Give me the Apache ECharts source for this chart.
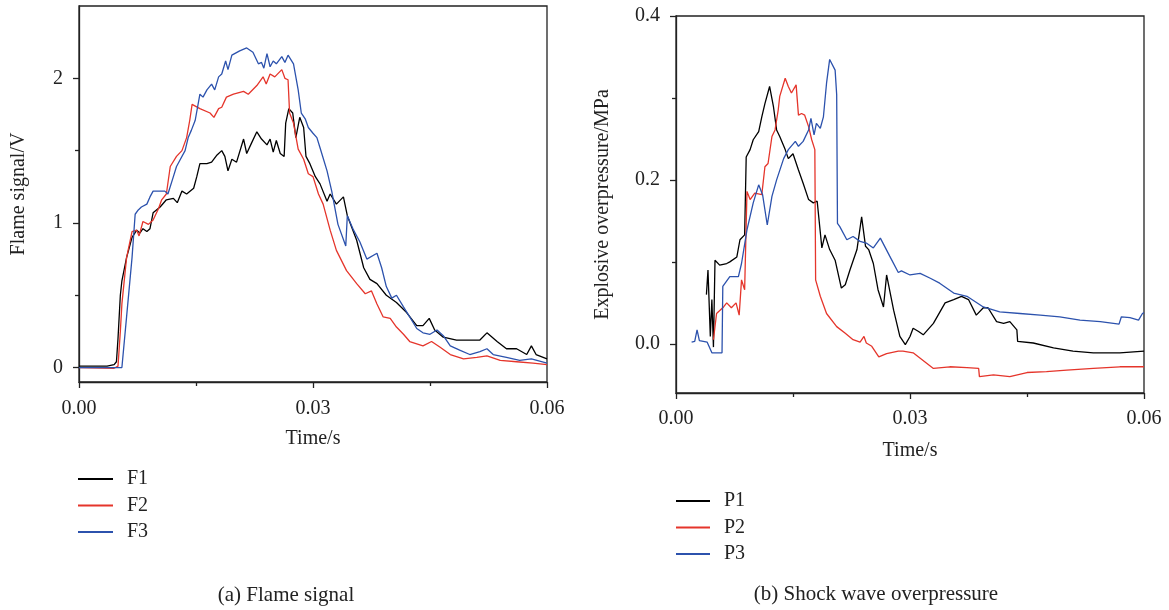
<!DOCTYPE html>
<html>
<head>
<meta charset="utf-8">
<script src="https://cdn.jsdelivr.net/npm/echarts@6/dist/echarts.min.js"></script>
<style>
html,body{margin:0;padding:0;background:#fff;}
#chart{width:1169px;height:610px;}
</style>
</head>
<body>
<div id="chart"></div>
<script>
// ---- Data: [time (s), value] ----
const F1 = [[0,0.01],[0.0036,0.01],[0.0045,0.02],[0.0048,0.04],[0.0050,0.2],[0.0053,0.5],[0.0055,0.60],[0.0061,0.76],[0.0068,0.90],[0.0074,0.95],[0.0078,0.93],[0.0082,0.96],[0.0087,0.94],[0.0091,0.96],[0.0095,1.07],[0.0104,1.11],[0.0112,1.16],[0.0121,1.17],[0.0126,1.14],[0.0132,1.22],[0.0138,1.20],[0.0147,1.24],[0.0151,1.32],[0.0155,1.41],[0.0164,1.41],[0.0170,1.42],[0.0177,1.47],[0.0183,1.50],[0.0187,1.46],[0.0191,1.36],[0.0196,1.44],[0.0202,1.42],[0.0211,1.58],[0.0215,1.48],[0.0221,1.55],[0.0228,1.63],[0.0234,1.58],[0.0241,1.54],[0.0245,1.58],[0.0249,1.49],[0.0253,1.57],[0.0258,1.48],[0.0263,1.46],[0.0265,1.69],[0.0269,1.79],[0.0274,1.76],[0.0278,1.59],[0.0283,1.73],[0.0288,1.66],[0.0291,1.46],[0.0296,1.41],[0.0303,1.32],[0.0309,1.27],[0.0318,1.15],[0.0322,1.20],[0.0330,1.13],[0.0339,1.18],[0.0344,1.05],[0.0356,0.88],[0.0365,0.69],[0.0373,0.61],[0.0382,0.58],[0.0394,0.50],[0.0407,0.45],[0.0420,0.38],[0.0433,0.29],[0.0441,0.29],[0.0449,0.34],[0.0456,0.26],[0.0467,0.21],[0.0484,0.19],[0.0501,0.19],[0.0514,0.19],[0.0523,0.24],[0.0536,0.18],[0.0548,0.13],[0.0561,0.13],[0.0574,0.09],[0.0580,0.15],[0.0586,0.09],[0.0600,0.06]];
const F2 = [[0,0.0],[0.0045,-0.005],[0.0050,0.01],[0.0053,0.25],[0.0055,0.44],[0.0061,0.76],[0.0068,0.94],[0.0074,0.95],[0.0077,0.91],[0.0082,1.01],[0.0089,0.99],[0.0095,1.02],[0.0102,1.10],[0.0106,1.16],[0.0112,1.20],[0.0117,1.39],[0.0125,1.46],[0.0132,1.50],[0.0138,1.59],[0.0142,1.71],[0.0145,1.82],[0.0155,1.79],[0.0168,1.76],[0.0173,1.73],[0.0179,1.79],[0.0183,1.80],[0.0189,1.87],[0.0198,1.89],[0.0211,1.91],[0.0217,1.89],[0.0228,1.95],[0.0236,2.01],[0.0240,1.96],[0.0245,2.03],[0.0251,2.01],[0.0260,2.06],[0.0264,2.00],[0.0268,1.99],[0.0270,1.76],[0.0275,1.69],[0.0281,1.51],[0.0288,1.44],[0.0294,1.34],[0.0300,1.32],[0.0307,1.20],[0.0313,1.13],[0.0322,0.95],[0.0330,0.81],[0.0343,0.67],[0.0356,0.58],[0.0367,0.51],[0.0375,0.53],[0.0382,0.44],[0.0390,0.35],[0.0399,0.34],[0.0407,0.28],[0.0416,0.23],[0.0424,0.18],[0.0441,0.15],[0.0452,0.18],[0.0463,0.14],[0.0476,0.09],[0.0493,0.06],[0.0510,0.07],[0.0523,0.08],[0.0540,0.05],[0.0561,0.04],[0.0582,0.03],[0.0600,0.02]];
const F3 = [[0,0.0],[0.0055,0.0],[0.0057,0.01],[0.0061,0.35],[0.0068,0.76],[0.0072,1.06],[0.0076,1.09],[0.0080,1.11],[0.0087,1.13],[0.0091,1.18],[0.0095,1.22],[0.0104,1.22],[0.0110,1.22],[0.0114,1.20],[0.0121,1.32],[0.0125,1.39],[0.0129,1.43],[0.0136,1.50],[0.0140,1.59],[0.0144,1.64],[0.0149,1.71],[0.0155,1.89],[0.0159,1.87],[0.0164,1.92],[0.0170,1.96],[0.0174,1.92],[0.0179,2.01],[0.0183,2.03],[0.0188,2.12],[0.0191,2.06],[0.0196,2.16],[0.0206,2.19],[0.0215,2.21],[0.0223,2.18],[0.0230,2.10],[0.0234,2.11],[0.0237,2.07],[0.0241,2.17],[0.0245,2.08],[0.0249,2.12],[0.0253,2.10],[0.0260,2.15],[0.0264,2.11],[0.0268,2.16],[0.0275,2.10],[0.0281,1.92],[0.0285,1.76],[0.0290,1.72],[0.0294,1.66],[0.0300,1.62],[0.0305,1.59],[0.0309,1.52],[0.0318,1.36],[0.0324,1.22],[0.0332,0.99],[0.0342,0.84],[0.0344,1.05],[0.0352,0.95],[0.0360,0.87],[0.0369,0.75],[0.0382,0.79],[0.0388,0.69],[0.0394,0.56],[0.0401,0.48],[0.0407,0.50],[0.0416,0.42],[0.0424,0.35],[0.0433,0.27],[0.0441,0.24],[0.0450,0.23],[0.0459,0.26],[0.0467,0.22],[0.0476,0.15],[0.0488,0.12],[0.0501,0.09],[0.0514,0.11],[0.0523,0.13],[0.0531,0.09],[0.0548,0.07],[0.0565,0.05],[0.0580,0.06],[0.0600,0.03]];

const P1 = [[0.0039,0.060],[0.0041,0.090],[0.0044,0.009],[0.0046,0.054],[0.0048,-0.004],[0.0050,0.102],[0.0056,0.096],[0.0065,0.098],[0.0069,0.100],[0.0078,0.106],[0.0082,0.127],[0.0088,0.133],[0.0090,0.228],[0.0095,0.237],[0.0099,0.249],[0.0106,0.259],[0.0110,0.277],[0.0114,0.293],[0.0120,0.314],[0.0125,0.289],[0.0129,0.261],[0.0133,0.253],[0.0140,0.237],[0.0144,0.226],[0.0150,0.232],[0.0157,0.212],[0.0163,0.196],[0.0170,0.176],[0.0176,0.172],[0.0181,0.174],[0.0187,0.117],[0.0191,0.133],[0.0197,0.115],[0.0204,0.102],[0.0212,0.068],[0.0217,0.072],[0.0223,0.090],[0.0232,0.115],[0.0238,0.155],[0.0243,0.119],[0.0247,0.115],[0.0253,0.098],[0.0259,0.066],[0.0266,0.045],[0.0270,0.084],[0.0279,0.041],[0.0287,0.009],[0.0294,-0.001],[0.0300,0.009],[0.0304,0.019],[0.0311,0.015],[0.0317,0.011],[0.0330,0.025],[0.0345,0.050],[0.0356,0.054],[0.0366,0.058],[0.0375,0.054],[0.0385,0.035],[0.0394,0.044],[0.0400,0.044],[0.0411,0.027],[0.0420,0.025],[0.0428,0.027],[0.0437,0.017],[0.0438,0.003],[0.0458,0.001],[0.0484,-0.005],[0.0509,-0.009],[0.0535,-0.011],[0.0569,-0.011],[0.0600,-0.009]];
const P2 = [[0.0048,0.005],[0.0050,0.007],[0.0052,0.037],[0.0061,0.045],[0.0065,0.050],[0.0071,0.044],[0.0077,0.050],[0.0081,0.035],[0.0084,0.078],[0.0088,0.066],[0.0091,0.186],[0.0095,0.176],[0.0101,0.184],[0.0110,0.182],[0.0114,0.216],[0.0118,0.220],[0.0123,0.253],[0.0127,0.261],[0.0131,0.285],[0.0133,0.302],[0.0140,0.324],[0.0142,0.326],[0.0144,0.314],[0.0148,0.306],[0.0154,0.316],[0.0157,0.279],[0.0161,0.281],[0.0165,0.279],[0.0170,0.265],[0.0174,0.249],[0.0178,0.237],[0.0179,0.078],[0.0185,0.058],[0.0193,0.037],[0.0206,0.021],[0.0217,0.013],[0.0227,0.005],[0.0236,0.002],[0.0241,0.009],[0.0244,0.001],[0.0251,-0.003],[0.0260,-0.016],[0.0270,-0.012],[0.0285,-0.009],[0.0291,-0.009],[0.0304,-0.011],[0.0330,-0.030],[0.0351,-0.028],[0.0373,-0.029],[0.0388,-0.030],[0.0389,-0.040],[0.0407,-0.038],[0.0428,-0.040],[0.0450,-0.035],[0.0475,-0.034],[0.0501,-0.032],[0.0535,-0.030],[0.0569,-0.028],[0.0600,-0.028]];
const P3 = [[0.0020,0.002],[0.0024,0.003],[0.0027,0.017],[0.0030,0.004],[0.0035,0.003],[0.0040,0.002],[0.0046,-0.011],[0.0059,-0.011],[0.0060,0.070],[0.0069,0.082],[0.0080,0.082],[0.0084,0.098],[0.0091,0.139],[0.0099,0.172],[0.0106,0.194],[0.0111,0.182],[0.0117,0.145],[0.0123,0.180],[0.0129,0.200],[0.0138,0.226],[0.0144,0.237],[0.0153,0.247],[0.0157,0.241],[0.0163,0.247],[0.0170,0.261],[0.0173,0.275],[0.0177,0.255],[0.0180,0.269],[0.0185,0.263],[0.0189,0.277],[0.0193,0.318],[0.0197,0.347],[0.0204,0.334],[0.0206,0.304],[0.0207,0.147],[0.0210,0.143],[0.0219,0.127],[0.0227,0.131],[0.0236,0.125],[0.0244,0.123],[0.0253,0.117],[0.0262,0.129],[0.0274,0.107],[0.0285,0.087],[0.0289,0.089],[0.0300,0.084],[0.0313,0.086],[0.0326,0.080],[0.0338,0.074],[0.0356,0.062],[0.0373,0.058],[0.0394,0.045],[0.0415,0.039],[0.0441,0.037],[0.0467,0.035],[0.0492,0.033],[0.0518,0.029],[0.0544,0.027],[0.0568,0.024],[0.0571,0.033],[0.0582,0.032],[0.0593,0.029],[0.0598,0.037],[0.0600,0.038]];

// ---- Tick values ----
const xMajor = [0, 0.03, 0.06];
const xMinor = [0.015, 0.045];
const yMajorA = [0, 1, 2];
const yMinorA = [0.5, 1.5];
const yMajorB = [0, 0.2, 0.4];
const yMinorB = [0.1, 0.3];

const FONT = 'Liberation Serif';
const INK = '#222';
const COLORS = ['#000000', '#e5352b', '#2c52ad'];

const chart = echarts.init(document.getElementById('chart'), null, {renderer: 'canvas'});

function mainAxis(grid, pos, min, max, major, fmt, margin, extra) {
  return Object.assign({
    type: 'value', gridIndex: grid, position: pos, min: min, max: max,
    axisLine: {show: true, onZero: false, lineStyle: {color: INK, width: 1.3}},
    axisTick: {show: true, customValues: major, length: 6, lineStyle: {color: INK, width: 1.3}},
    axisLabel: {show: true, customValues: major, formatter: fmt, fontFamily: FONT, fontSize: 20, color: INK, margin: margin},
    splitLine: {show: false},
    nameTextStyle: {fontFamily: FONT, fontSize: 20, color: INK},
    nameLocation: 'middle'
  }, extra || {});
}
function minorAxis(grid, pos, min, max, minor) {
  return {
    type: 'value', gridIndex: grid, position: pos, min: min, max: max,
    axisLine: {show: false, onZero: false},
    axisTick: {show: true, customValues: minor, length: 4, lineStyle: {color: INK, width: 1.3}},
    axisLabel: {show: false},
    splitLine: {show: false}
  };
}

const fx = v => v.toFixed(2);

const option = {
  animation: false,
  backgroundColor: '#fff',
  grid: [
    {left: 79, top: 6, width: 468, height: 376, show: true, borderColor: INK, borderWidth: 1.3},
    {left: 676, top: 16, width: 468, height: 377, show: true, borderColor: INK, borderWidth: 1.3}
  ],
  xAxis: [
    mainAxis(0, 'bottom', 0, 0.06, xMajor, fx, 17, {name: 'Time/s', nameGap: 47}),
    minorAxis(0, 'bottom', 0, 0.06, xMinor),
    mainAxis(1, 'bottom', 0, 0.06, xMajor, fx, 16, {name: 'Time/s', nameGap: 48}),
    minorAxis(1, 'bottom', 0, 0.06, xMinor)
  ],
  yAxis: [
    mainAxis(0, 'left', -0.1, 2.5, yMajorA, v => String(Math.round(v)), 16, {name: 'Flame signal/V', nameGap: 50}),
    minorAxis(0, 'left', -0.1, 2.5, yMinorA),
    mainAxis(1, 'left', -0.06, 0.4, yMajorB, v => v.toFixed(1), 16, {name: 'Explosive overpressure/MPa', nameGap: 63}),
    minorAxis(1, 'left', -0.06, 0.4, yMinorB)
  ],
  legend: [
    {data: ['F1', 'F2', 'F3'], orient: 'vertical', left: 78, top: 469, padding: 0, itemGap: 6.5,
     itemWidth: 35, itemHeight: 2, icon: 'rect',
     textStyle: {fontFamily: FONT, fontSize: 20, color: INK, padding: [0, 0, 0, 9]}},
    {data: ['P1', 'P2', 'P3'], orient: 'vertical', left: 676, top: 491, padding: 0, itemGap: 6.5,
     itemWidth: 34, itemHeight: 2, icon: 'rect',
     textStyle: {fontFamily: FONT, fontSize: 20, color: INK, padding: [0, 0, 0, 9]}}
  ],
  graphic: [
    {type: 'text', x: 286, y: 595, style: {text: '(a) Flame signal', font: '21px "Liberation Serif"', fill: INK, textAlign: 'center', textVerticalAlign: 'middle'}},
    {type: 'text', x: 876, y: 594, style: {text: '(b) Shock wave overpressure', font: '21px "Liberation Serif"', fill: INK, textAlign: 'center', textVerticalAlign: 'middle'}}
  ],
  series: [
    {name: 'F1', data: F1, xAxisIndex: 0, yAxisIndex: 0, color: COLORS[0]},
    {name: 'F2', data: F2, xAxisIndex: 0, yAxisIndex: 0, color: COLORS[1]},
    {name: 'F3', data: F3, xAxisIndex: 0, yAxisIndex: 0, color: COLORS[2]},
    {name: 'P1', data: P1, xAxisIndex: 2, yAxisIndex: 2, color: COLORS[0]},
    {name: 'P2', data: P2, xAxisIndex: 2, yAxisIndex: 2, color: COLORS[1]},
    {name: 'P3', data: P3, xAxisIndex: 2, yAxisIndex: 2, color: COLORS[2]}
  ].map(s => Object.assign({type: 'line', showSymbol: false, symbol: 'none', lineStyle: {width: 1.3, color: s.color}, itemStyle: {color: s.color}, z: 3}, s))
};
chart.setOption(option);
</script>
</body>
</html>
